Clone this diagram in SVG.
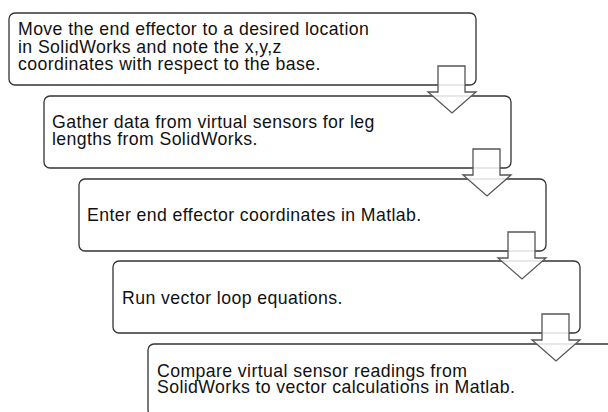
<svg xmlns="http://www.w3.org/2000/svg" width="608" height="412" viewBox="0 0 608 412">
<style>
.box{fill:#fff;stroke:#333;stroke-width:1.3}
.t{font-family:"Liberation Sans",Arial,sans-serif;font-size:17.7px;letter-spacing:0.4px;fill:#111}
.arr{fill:#fff;fill-opacity:0.85;stroke:#555;stroke-width:1.3;stroke-linejoin:miter}
</style>
<rect width="608" height="412" fill="#fff"/>
<g id="step1">
<rect class="box" x="9" y="13" width="467" height="72" rx="6"/>
<text class="t" x="18" y="35">Move the end effector to a desired location</text>
<text class="t" x="18" y="52.5">in SolidWorks and note the x,y,z</text>
<text class="t" x="18" y="70">coordinates with respect to the base.</text>
</g>
<g id="step2">
<rect class="box" x="44" y="96" width="467" height="72" rx="6"/>
<text class="t" x="52" y="128">Gather data from virtual sensors for leg</text>
<text class="t" x="52" y="145">lengths from SolidWorks.</text>
</g>
<g id="step3">
<rect class="box" x="79" y="179" width="467" height="72" rx="6"/>
<text class="t" x="87" y="221">Enter end effector coordinates in Matlab.</text>
</g>
<g id="step4">
<rect class="box" x="113" y="261" width="467" height="72" rx="6"/>
<text class="t" x="122" y="304">Run vector loop equations.</text>
</g>
<g id="step5">
<rect class="box" x="148" y="344" width="467" height="72" rx="6"/>
<text class="t" x="157" y="377">Compare virtual sensor readings from</text>
<text class="t" x="157" y="393">SolidWorks to vector calculations in Matlab.</text>
</g>
<g id="connectors">
<polygon class="arr" points="438,66 465,66 465,92 476,92 452,113 428,92 438,92"/>
<polygon class="arr" points="473,149 500,149 500,175 511,175 487,196 463,175 473,175"/>
<polygon class="arr" points="508,232 535,232 535,258 546,258 522,279 498,258 508,258"/>
<polygon class="arr" points="542,314 569,314 569,340 580,340 556,361 532,340 542,340"/>
</g>
</svg>
